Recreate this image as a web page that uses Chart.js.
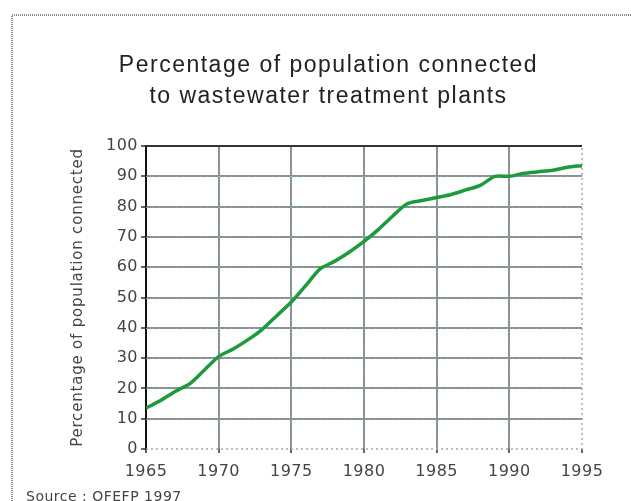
<!DOCTYPE html>
<html>
<head>
<meta charset="utf-8">
<script src="https://cdn.jsdelivr.net/npm/chart.js@4/dist/chart.umd.min.js"></script>
<style>
  html, body { margin: 0; padding: 0; background: #fff; }
</style>
</head>
<body>
<canvas id="chart" width="631" height="501"></canvas>
<script>
const years = [1965, 1966, 1967, 1968, 1969, 1970, 1971, 1972, 1973, 1974, 1975, 1976, 1977, 1978, 1979, 1980,
  1981, 1982, 1983, 1984, 1985, 1986, 1987, 1988, 1989, 1990, 1991, 1992, 1993, 1994, 1995];
const connected = [13.5, 16, 19, 21.5, 26, 30.5, 33, 36, 39.5, 44, 48.5, 54, 59.5, 62, 65, 68.5,
  72.5, 77, 81, 82, 83, 84, 85.5, 87, 90, 90, 91, 91.5, 92, 93, 93.5];
const titleLines = ['Percentage of population connected', 'to wastewater treatment plants'];
const yTitle = 'Percentage of population connected';
const source = 'Source : OFEFP 1997';

// the original type is a little tracked; spacing by font size
const spacing = { '23px': '1.5px', '16px': '0.5px', '15px': '0.8px', '14px': '0.5px' };
const tracked = {
  id: 'tracked',
  beforeInit(chart) {
    const ctx = chart.ctx;
    const fill = ctx.fillText.bind(ctx);
    ctx.fillText = function (text, x, y, maxWidth) {
      const m = /(\d+)px/.exec(ctx.font);
      ctx.letterSpacing = (m && spacing[m[1] + 'px']) || '0px';
      return maxWidth === undefined ? fill(text, x, y) : fill(text, x, y, maxWidth);
    };
  }
};

// frame + dotted grid overlay, drawn before the line
const decor = {
  id: 'decor',
  beforeDraw(chart) {
    const ctx = chart.ctx;
    ctx.save();
    ctx.strokeStyle = '#8a8a8a';
    ctx.lineWidth = 2;
    ctx.setLineDash([1, 1]);
    ctx.beginPath();
    ctx.moveTo(12, 501);
    ctx.lineTo(12, 15);
    ctx.lineTo(631, 15);
    ctx.stroke();
    ctx.restore();
  },
  beforeDatasetsDraw(chart) {
    const ctx = chart.ctx;
    const x = chart.scales.x, y = chart.scales.y;
    const a = chart.chartArea;
    ctx.save();
    ctx.strokeStyle = '#55cccc';
    ctx.lineWidth = 1;
    ctx.setLineDash([1, 5]);
    y.ticks.forEach(t => {
      if (t.value <= 0 || t.value >= 100) return;
      const py = Math.round(y.getPixelForValue(t.value)) + 0.5;
      ctx.beginPath(); ctx.moveTo(a.left, py); ctx.lineTo(a.right, py); ctx.stroke();
    });
    x.ticks.forEach(t => {
      if (t.value <= 1965 || t.value >= 1995) return;
      const px = Math.round(x.getPixelForValue(t.value)) + 0.5;
      ctx.beginPath(); ctx.moveTo(px, a.top); ctx.lineTo(px, a.bottom); ctx.stroke();
    });
    ctx.strokeStyle = '#aaaaaa';
    ctx.setLineDash([2, 3]);
    ctx.lineWidth = 1.5;
    ctx.beginPath();
    ctx.moveTo(a.left, a.bottom); ctx.lineTo(a.right, a.bottom);
    ctx.lineTo(a.right, a.top);
    ctx.stroke();
    ctx.setLineDash([]);
    ctx.strokeStyle = '#333';
    ctx.lineWidth = 2;
    ctx.beginPath(); ctx.moveTo(a.left, a.top); ctx.lineTo(a.right, a.top); ctx.stroke();
    ctx.restore();
  }
};

const gridColor = (lo, hi) => ctx => {
  const v = ctx.tick && ctx.tick.value;
  if (v === lo || v === hi) return 'rgba(0,0,0,0)';
  return '#8f8f8f';
};

new Chart(document.getElementById('chart'), {
  type: 'line',
  data: {
    labels: years,
    datasets: [{
      data: years.map((yr, i) => ({ x: yr, y: connected[i] })),
      borderColor: '#1c9a3c',
      borderWidth: 3.5,
      pointRadius: 0,
      tension: 0.25,
      fill: false
    }]
  },
  options: {
    responsive: false,
    animation: false,
    devicePixelRatio: 1,
    layout: { padding: { left: 26, right: 0, top: 0, bottom: 0 } },
    plugins: {
      legend: { display: false },
      tooltip: { enabled: false },
      title: {
        display: true,
        text: titleLines,
        color: '#222',
        font: { family: 'Liberation Sans, Arial, sans-serif', size: 23, weight: 'normal', lineHeight: '31px' },
        padding: { top: 50, bottom: 34 }
      },
      subtitle: {
        display: true,
        text: source,
        position: 'bottom',
        align: 'start',
        color: '#444',
        font: { family: 'DejaVu Sans, sans-serif', size: 14, lineHeight: '8px' },
        padding: { top: 11, bottom: 0 }
      }
    },
    scales: {
      x: {
        type: 'linear',
        min: 1965,
        max: 1995,
        afterFit(scale) { scale.height = 33; },
        ticks: {
          stepSize: 5,
          color: '#444',
          padding: 9,
          maxRotation: 0,
          font: { family: 'DejaVu Sans, sans-serif', size: 16 },
          callback: v => String(v)
        },
        grid: { color: gridColor(1965, 1995), lineWidth: 2, tickLength: 4, tickColor: '#666' },
        border: { display: false }
      },
      y: {
        min: 0,
        max: 100,
        afterFit(scale) { scale.width = 120; },
        ticks: {
          stepSize: 10,
          color: '#444',
          padding: 3,
          font: { family: 'DejaVu Sans, sans-serif', size: 16 }
        },
        grid: { color: gridColor(0, 100), lineWidth: 2, tickLength: 5, tickColor: '#666' },
        border: { display: true, color: '#111', width: 2 },
        title: {
          display: true,
          text: yTitle,
          color: '#444',
          font: { family: 'DejaVu Sans, sans-serif', size: 15, lineHeight: 1.2 },
          padding: { top: 43, bottom: 0 }
        }
      },
      // empty spacer on the right so the plot ends where the original does
      right: {
        position: 'right',
        display: true,
        afterFit(scale) { scale.width = 49; },
        ticks: { display: false },
        grid: { display: false, drawTicks: false },
        border: { display: false }
      }
    }
  },
  plugins: [tracked, decor]
});
</script>
</body>
</html>
